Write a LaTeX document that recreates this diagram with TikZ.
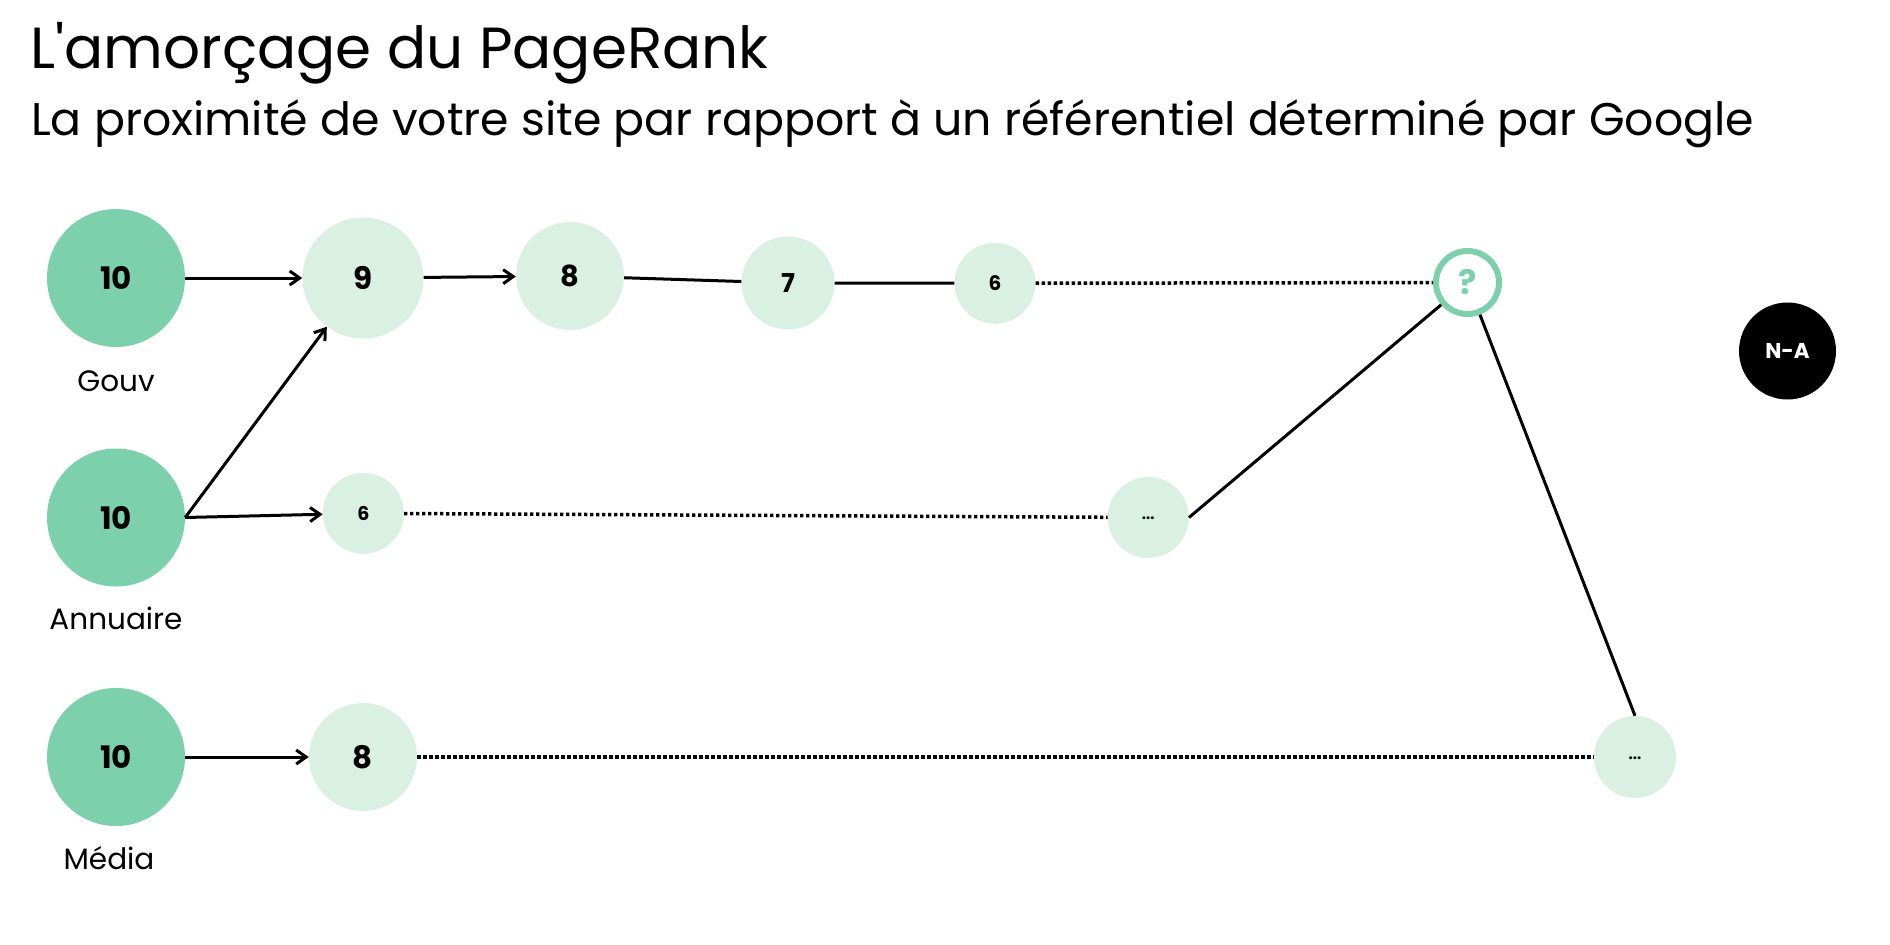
\documentclass[tikz,border=0pt]{standalone}
\usepackage{fontspec}
\setmainfont{Poppins}[Ligatures=TeXOff]
\usetikzlibrary{arrows.meta}
\definecolor{gdark}{RGB}{124,209,172}
\definecolor{glight}{RGB}{218,240,227}
\begin{document}
\begin{tikzpicture}[x=1pt,y=-1pt,
  big/.style={circle, fill=gdark, minimum size=138pt, inner sep=0pt, font=\fontsize{31}{31}\selectfont\bfseries},
  small/.style={circle, fill=glight, inner sep=0pt},
  lbl/.style={anchor=base, inner sep=0pt, font=\fontsize{29.5}{29.5}\selectfont},
  conn/.style={line width=3pt},
  arr/.style={conn, -{Straight Barb[length=10pt,width=14pt,line width=3pt]}},
  dotline/.style={line width=3.5pt, dash pattern=on 3.3pt off 2.7pt},
]
\useasboundingbox (0,0) rectangle (1890,945);
\node[anchor=base west, inner sep=0pt, font=\fontsize{58}{58}\selectfont] (title) at (30,68.5) {L'amorçage du PageRank};
\node[anchor=base west, inner sep=0pt, font=\fontsize{45.8}{45.8}\selectfont] (subtitle) at (31,135.5) {La proximité de votre site par rapport à un référentiel déterminé par Google};

% sources
\node[big] (gouv) at (116,278) {10};
\node[big] (ann) at (116,517.5) {10};
\node[big] (med) at (116,757) {10};
\node[lbl] (lgouv) at (116,391.7) {Gouv};
\node[lbl] (lann) at (116,629) {Annuaire};
\node[lbl] (lmed) at (109,869) {Média};

% top row
\node[small, minimum size=121pt, font=\fontsize{31}{31}\selectfont\bfseries] (a9) at (363,278) {9};
\node[small, minimum size=108pt, font=\fontsize{29}{29}\selectfont\bfseries] (a8) at (570,276) {8};
\node[small, minimum size=93pt, font=\fontsize{26}{26}\selectfont\bfseries] (a7) at (788,283) {7};
\node[small, minimum size=81pt, font=\fontsize{20}{20}\selectfont\bfseries] (a6) at (995,283.3) {6};
\node[circle, draw=gdark, line width=6pt, fill=white, minimum size=63pt, inner sep=0pt, text=gdark, font=\fontsize{34}{34}\selectfont\bfseries] (q) at (1467.5,282.5) {?};
\node[circle, fill=black, minimum size=97pt, inner sep=0pt, text=white, font=\fontsize{21.5}{21.5}\selectfont\bfseries] (na) at (1787.5,351) {N-A};

% middle row
\node[small, minimum size=81pt, font=\fontsize{19}{19}\selectfont\bfseries] (b6) at (363.4,513.3) {6};
\node[small, minimum size=81pt, font=\fontsize{15}{15}\selectfont\bfseries] (bdots) at (1148.3,517.5) {\raisebox{-5pt}{...}};

% bottom row
\node[small, minimum size=108pt, font=\fontsize{31}{31}\selectfont\bfseries] (c8) at (363,757) {8};
\node[small, minimum size=82pt, font=\fontsize{15}{15}\selectfont\bfseries] (cdots) at (1635,757) {\raisebox{-5pt}{...}};

% connectors
\draw[arr] (gouv) -- (a9);
\draw[arr] (a9) -- (a8);
\draw[conn] (a8) -- (a7);
\draw[conn] (a7) -- (a6);
\draw[dotline] (a6) -- (q);
\draw[arr] (ann.east) -- (a9);
\draw[arr] (ann.east) -- (b6);
\draw[dotline] (b6) -- (bdots);
\draw[conn] (bdots.east) -- (q);
\draw[arr] (med) -- (c8);
\draw[dotline] (c8) -- (cdots);
\draw[conn] (q) -- (cdots.north);
\end{tikzpicture}
\end{document}
